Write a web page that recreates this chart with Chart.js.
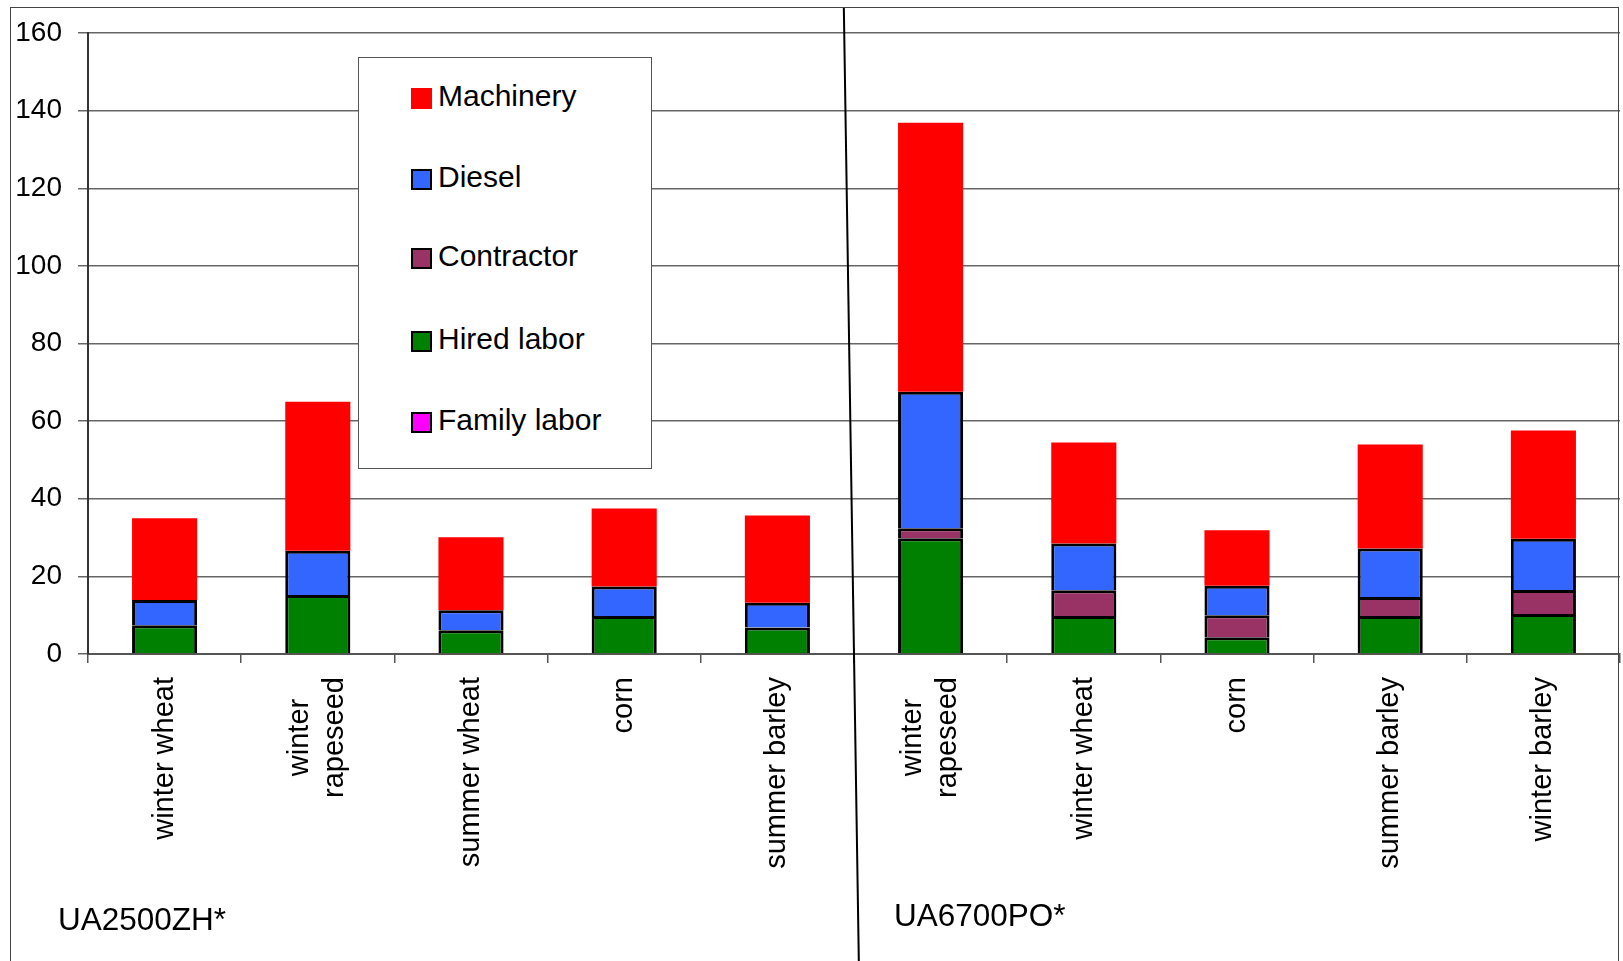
<!DOCTYPE html>
<html>
<head>
<meta charset="utf-8">
<script src="https://cdn.jsdelivr.net/npm/chart.js@4.4.1/dist/chart.umd.min.js"></script>
<style>
    body { margin: 0; background: #fff; font-family: "Liberation Sans", Arial, sans-serif; }
    #wrap { position: relative; width: 1623px; height: 961px; overflow: hidden; }
    #frame { position: absolute; left: 10px; top: 7px; width: 1609px; height: 970px; border: 1.5px solid #444; box-sizing: border-box; pointer-events: none; }
    #legend { position: absolute; left: 358px; top: 57px; width: 294px; height: 412px; box-sizing: border-box; border: 1.5px solid #555; background: #fff; }
    .leg-item { position: absolute; left: 52px; height: 34px; display: flex; align-items: center; font-size: 30px; color: #000; white-space: nowrap; }
    .leg-box { width: 21px; height: 21px; box-sizing: border-box; margin-right: 6px; margin-top: 5px; }
    .group-label { position: absolute; font-size: 31.5px; line-height: 1; color: #000; }
</style>
</head>
<body>
<div id="wrap">
    <canvas id="costChart" width="1623" height="961"></canvas>
    <div id="frame"></div>
    <div id="legend"></div>
    <div class="group-label" style="left: 58px; top: 904px;">UA2500ZH*</div>
    <div class="group-label" style="left: 894px; top: 900px;">UA6700PO*</div>
</div>
<script>
// categories: first five = UA2500ZH*, last five = UA6700PO*
const categories = [
    'winter wheat', ['winter', 'rapeseed'], 'summer wheat', 'corn', 'summer barley',
    ['winter', 'rapeseed'], 'winter wheat', 'corn', 'summer barley', 'winter barley'
];

const familyLabor = [0, 0, 0, 0, 0, 0, 0, 0, 0, 0];
const hiredLabor  = [7.4, 15.2, 6.1, 9.8, 6.8, 29.8, 9.8, 4.3, 9.8, 10.3];
const contractor  = [0, 0, 0, 0, 0, 2.6, 6.6, 5.7, 4.9, 6.2];
const diesel      = [6.5, 11.4, 5.2, 7.6, 6.4, 35.2, 12.1, 7.6, 12.5, 13.2];
const machinery   = [21.1, 38.4, 18.8, 20.1, 22.5, 69.3, 26.0, 14.3, 26.8, 27.9];

const yTicks = [0, 20, 40, 60, 80, 100, 120, 140, 160];

// stacked bottom -> top
const series = [
    { label: 'Family labor', data: familyLabor, color: '#FF00FF', outlined: true },
    { label: 'Hired labor',  data: hiredLabor,  color: '#008000', outlined: true },
    { label: 'Contractor',   data: contractor,  color: '#993366', outlined: true },
    { label: 'Diesel',       data: diesel,      color: '#3366FF', outlined: true },
    { label: 'Machinery',    data: machinery,   color: '#FF0000', outlined: false }
];

// slanted separator between the two farms
const dividerLine = {
    id: 'dividerLine',
    afterDraw(chart) {
        const x = chart.scales.x;
        const midX = (x.getPixelForTick(4) + x.getPixelForTick(5)) / 2;
        const axisY = chart.chartArea.bottom;
        const slope = 15 / 953;
        const ctx = chart.ctx;
        ctx.save();
        ctx.strokeStyle = '#000';
        ctx.lineWidth = 2;
        ctx.beginPath();
        ctx.moveTo(midX - (axisY - 8) * slope, 8);
        ctx.lineTo(midX + (961 - axisY) * slope, 961);
        ctx.stroke();
        ctx.restore();
    }
};

// two-line rotated labels: center the lines on the tick and on each other
const centerWrappedLabels = {
    id: 'centerWrappedLabels',
    beforeDraw(chart) {
        const scale = chart.scales.x;
        const items = scale.getLabelItems(chart.chartArea);
        const ctx = chart.ctx;
        items.forEach(item => {
            if (item._centered || !Array.isArray(item.label) || item.label.length < 2) return;
            item._centered = true;
            const opts = item.options || item;
            ctx.save();
            ctx.font = item.font.string;
            const widest = Math.max(...item.label.map(l => ctx.measureText(l).width));
            ctx.restore();
            item.textOffset -= (item.label.length - 1) * item.font.lineHeight / 2;
            opts.textAlign = 'center';
            opts.translation = [opts.translation[0], opts.translation[1] + widest / 2];
        });
    }
};

new Chart(document.getElementById('costChart'), {
    type: 'bar',
    data: {
        labels: categories,
        datasets: series.map(s => ({
            label: s.label,
            data: s.data,
            backgroundColor: s.color,
            borderColor: s.outlined ? '#000' : s.color,
            borderWidth: s.outlined ? 3 : 0,
            borderSkipped: 'start',
            barPercentage: 0.425,
            categoryPercentage: 1
        }))
    },
    options: {
        responsive: false,
        animation: false,
        layout: { padding: { left: 0, top: 33, right: 3, bottom: 0 } },
        plugins: {
            legend: { display: false },
            tooltip: { enabled: false }
        },
        scales: {
            x: {
                stacked: true,
                afterFit: (scale) => { scale.height = 307; },
                grid: { display: true, drawOnChartArea: false, drawTicks: true, tickLength: 9, color: '#555', lineWidth: 1.5, offset: true },
                border: { display: true, color: '#555', width: 2 },
                ticks: {
                    autoSkip: false,
                    minRotation: 90,
                    maxRotation: 90,
                    padding: 14,
                    color: '#000',
                    font: { family: 'Liberation Sans', size: 29 }
                }
            },
            y: {
                stacked: true,
                min: 0,
                max: 160,
                afterFit: (scale) => { scale.width = 88; },
                afterBuildTicks: (scale) => { scale.ticks = yTicks.map(v => ({ value: v })); },
                grid: { color: '#666', lineWidth: 1.5, tickLength: 10 },
                border: { display: true, color: '#333', width: 2 },
                ticks: {
                    padding: 16,
                    color: '#000',
                    font: { family: 'Liberation Sans', size: 28 }
                }
            }
        }
    },
    plugins: [centerWrappedLabels, dividerLine]
});

// legend box: top of stack first, like the original
const legendEl = document.getElementById('legend');
const rowTops = [21, 102, 181, 264, 345];
series.slice().reverse().forEach((s, i) => {
    const item = document.createElement('div');
    item.className = 'leg-item';
    item.style.top = rowTops[i] + 'px';
    const box = document.createElement('span');
    box.className = 'leg-box';
    box.style.background = s.color;
    box.style.border = s.outlined ? '2px solid #000' : 'none';
    const txt = document.createElement('span');
    txt.textContent = s.label;
    item.appendChild(box);
    item.appendChild(txt);
    legendEl.appendChild(item);
});
</script>
</body>
</html>
